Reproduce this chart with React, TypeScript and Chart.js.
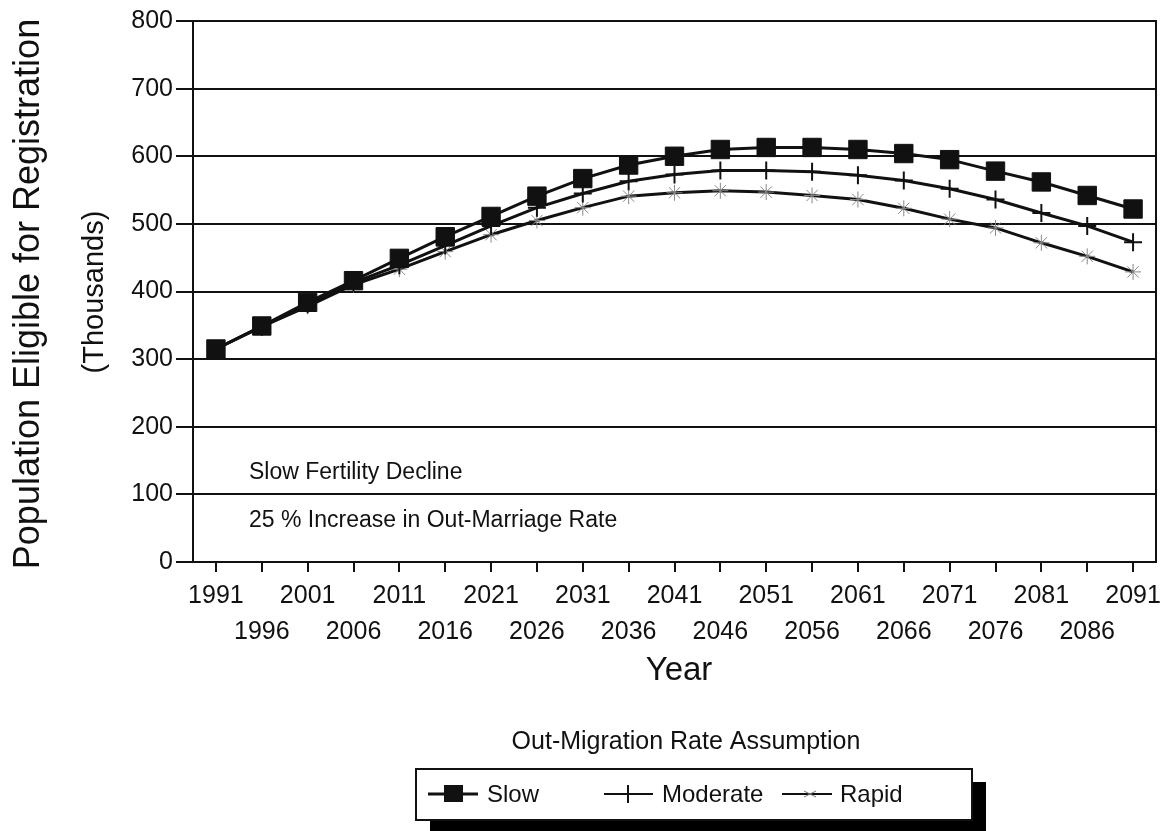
import React, { useEffect, useRef } from 'react';
import { Chart, registerables } from 'chart.js';

Chart.register(...registerables);

const years = ['1991', '1996', '2001', '2006', '2011', '2016', '2021', '2026', '2031', '2036', '2041', '2046', '2051', '2056', '2061', '2066', '2071', '2076', '2081', '2086', '2091'];
const slow = [315, 349, 384, 416, 449, 481, 511, 541, 567, 587, 600, 610, 613, 613, 610, 604, 595, 578, 562, 542, 522];
const moderate = [315, 348, 381, 413, 439, 468, 497, 524, 545, 563, 573, 579, 579, 577, 572, 564, 552, 536, 516, 497, 473];
const rapid = [315, 348, 378, 410, 433, 459, 484, 505, 524, 541, 546, 549, 547, 542, 536, 523, 507, 494, 472, 452, 429];
const seriesNames = ['Slow', 'Moderate', 'Rapid'];
const yMin = 0;
const yMax = 800;
const yStep = 100;
const yTitle = 'Population Eligible for Registration';
const ySubTitle = '(Thousands)';
const xTitle = 'Year';
const legendTitle = 'Out-Migration Rate Assumption';
const notes = ['Slow Fertility Decline', '25 % Increase in Out-Marriage Rate'];

const FONT = '"Liberation Sans", Arial, Helvetica, sans-serif';
const INK = '#111';

const decorPlugin = {
  id: 'decor',
  afterDraw(chart: any) {
    const ctx = chart.ctx as CanvasRenderingContext2D;
    const a = chart.chartArea;
    ctx.save();
    // right frame border
    ctx.strokeStyle = INK;
    ctx.lineWidth = 2;
    ctx.beginPath();
    ctx.moveTo(a.right, a.top - 1);
    ctx.lineTo(a.right, a.bottom + 1);
    ctx.stroke();

    ctx.fillStyle = INK;
    // notes inside plot
    ctx.font = `23px ${FONT}`;
    ctx.textAlign = 'left';
    ctx.textBaseline = 'middle';
    ctx.fillText(notes[0], a.left + 56, 473);
    ctx.fillText(notes[1], a.left + 56, 521);

    // y titles
    ctx.save();
    ctx.translate(29, 294);
    ctx.rotate(-Math.PI / 2);
    ctx.textAlign = 'center';
    ctx.textBaseline = 'middle';
    ctx.font = `36px ${FONT}`;
    ctx.fillText(yTitle, 0, 0);
    ctx.restore();

    ctx.save();
    ctx.translate(95, 292);
    ctx.rotate(-Math.PI / 2);
    ctx.textAlign = 'center';
    ctx.textBaseline = 'middle';
    ctx.font = `29px ${FONT}`;
    ctx.fillText(ySubTitle, 0, 0);
    ctx.restore();

    // x title
    ctx.textAlign = 'center';
    ctx.textBaseline = 'middle';
    ctx.font = `33px ${FONT}`;
    ctx.fillText(xTitle, 679, 671);

    // legend title
    ctx.font = `25px ${FONT}`;
    ctx.fillText(legendTitle, 686, 742);

    // legend box with shadow
    ctx.fillStyle = '#000';
    ctx.fillRect(430, 782, 556, 49);
    ctx.fillStyle = '#fff';
    ctx.fillRect(416, 769, 556, 51);
    ctx.strokeStyle = INK;
    ctx.lineWidth = 2;
    ctx.strokeRect(416, 769, 556, 51);

    const ly = 794;
    ctx.fillStyle = INK;
    ctx.textAlign = 'left';
    ctx.font = `24px ${FONT}`;
    // Slow
    ctx.lineWidth = 3;
    ctx.beginPath();
    ctx.moveTo(428, ly);
    ctx.lineTo(478, ly);
    ctx.stroke();
    ctx.fillRect(444, ly - 9, 19, 17);
    ctx.fillText(seriesNames[0], 487, ly + 1);
    // Moderate
    ctx.lineWidth = 2;
    ctx.beginPath();
    ctx.moveTo(604, ly);
    ctx.lineTo(653, ly);
    ctx.moveTo(628, ly - 9);
    ctx.lineTo(628, ly + 9);
    ctx.stroke();
    ctx.fillText(seriesNames[1], 662, ly + 1);
    // Rapid
    ctx.lineWidth = 2;
    ctx.beginPath();
    ctx.moveTo(782, ly);
    ctx.lineTo(832, ly);
    ctx.stroke();
    ctx.strokeStyle = '#777';
    ctx.lineWidth = 1;
    ctx.beginPath();
    ctx.moveTo(804, ly - 3);
    ctx.lineTo(816, ly + 3);
    ctx.moveTo(804, ly + 3);
    ctx.lineTo(816, ly - 3);
    ctx.stroke();
    ctx.fillText(seriesNames[2], 840, ly + 1);

    ctx.restore();
  },
};

export default function App() {
  const canvasRef = useRef<HTMLCanvasElement | null>(null);

  useEffect(() => {
    const canvas = canvasRef.current;
    if (!canvas) return;
    const chart = new Chart(canvas, {
      type: 'line',
      data: {
        labels: years,
        datasets: [
          {
            label: seriesNames[0],
            data: slow,
            borderColor: INK,
            backgroundColor: INK,
            borderWidth: 3,
            pointStyle: 'rect',
            pointRadius: 13,
            pointBackgroundColor: INK,
            pointBorderColor: INK,
            pointBorderWidth: 1,
            tension: 0,
          },
          {
            label: seriesNames[1],
            data: moderate,
            borderColor: INK,
            backgroundColor: INK,
            borderWidth: 3,
            pointStyle: 'cross',
            pointRadius: 9,
            pointBorderColor: INK,
            pointBorderWidth: 2,
            tension: 0,
          },
          {
            label: seriesNames[2],
            data: rapid,
            borderColor: INK,
            backgroundColor: INK,
            borderWidth: 3,
            pointStyle: 'star',
            pointRadius: 8,
            pointBorderColor: '#888',
            pointBorderWidth: 1,
            tension: 0,
          },
        ],
      },
      options: {
        animation: false,
        responsive: false,
        maintainAspectRatio: false,
        layout: { padding: { top: 21, right: 13, bottom: 0, left: 0 } },
        plugins: {
          legend: { display: false },
          tooltip: { enabled: false },
          title: { display: false },
        },
        scales: {
          x: {
            type: 'category',
            offset: true,
            border: { display: true, color: INK, width: 2 },
            grid: {
              display: true,
              drawOnChartArea: false,
              drawTicks: true,
              tickLength: 10,
              color: INK,
              lineWidth: 2,
              offset: false,
            },
            ticks: {
              autoSkip: false,
              maxRotation: 0,
              minRotation: 0,
              padding: 6,
              color: INK,
              font: { family: FONT, size: 25, lineHeight: 1.44 },
              callback: function (this: any, _v: any, index: number) {
                const lbl = years[index];
                return index % 2 === 0 ? lbl : ['', lbl];
              },
            },
            afterFit(scale: any) {
              scale.height = 269;
            },
          },
          y: {
            min: yMin,
            max: yMax,
            border: { display: true, color: INK, width: 2 },
            grid: {
              display: true,
              drawOnChartArea: true,
              drawTicks: true,
              tickLength: 17,
              color: INK,
              lineWidth: 2,
            },
            ticks: {
              stepSize: yStep,
              padding: 3,
              color: INK,
              font: { family: FONT, size: 25 },
            },
            afterFit(scale: any) {
              scale.width = 193;
            },
          },
        },
      },
      plugins: [decorPlugin],
    });
    return () => chart.destroy();
  }, []);

  return (
    <div style={{ position: 'absolute', left: 0, top: 0, width: 1170, height: 831, background: '#fff' }}>
      <canvas ref={canvasRef} width={1170} height={831} style={{ display: 'block', width: 1170, height: 831 }} />
    </div>
  );
}
